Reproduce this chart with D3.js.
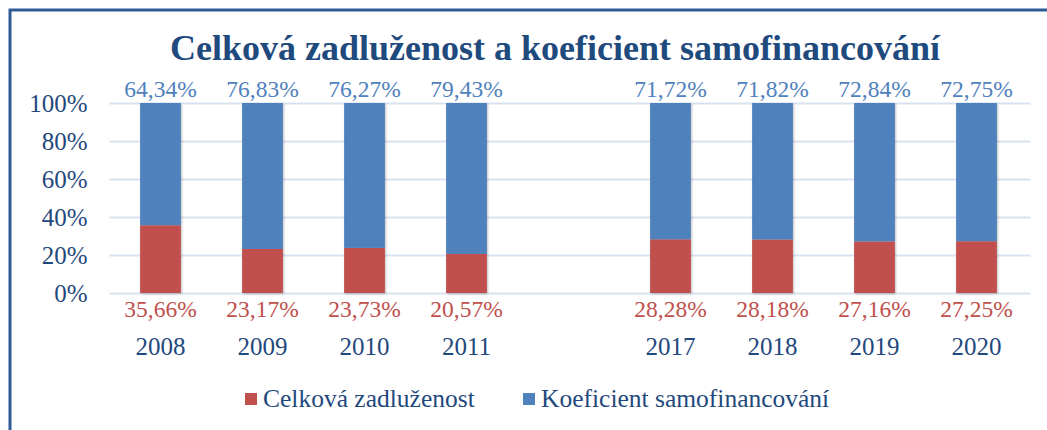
<!DOCTYPE html>
<meta charset="utf-8">
<style>
body { margin: 0; background: #fff; }
svg { font-family: "Liberation Serif", "Times New Roman", serif; }
.grid line { stroke: #D9E2F1; stroke-width: 2px; }
.grid text { fill: #1F497D; font-size: 25px; }
.xaxis text { fill: #1F497D; font-size: 25px; }
.lbl-top { fill: #4F81BD; font-size: 23.5px; }
.lbl-bot { fill: #C0504D; font-size: 23.5px; }
.legend text { fill: #1F497D; font-size: 25.5px; }
</style>
<svg width="1047" height="430"></svg>
<script src="https://d3js.org/d3.v7.min.js"></script>
<script>

// categories ("" is the empty slot between 2011 and 2017)
var years = ["2008", "2009", "2010", "2011", "", "2017", "2018", "2019", "2020"];
var zadluzenost = [35.66, 23.17, 23.73, 20.57, null, 28.28, 28.18, 27.16, 27.25];
var samofinancovani = [64.34, 76.83, 76.27, 79.43, null, 71.72, 71.82, 72.84, 72.75];
var yTicks = [0, 20, 40, 60, 80, 100];
var seriesNames = ["Celková zadluženost", "Koeficient samofinancování"];
var colors = ["#C0504D", "#4F81BD"];

var svg = d3.select("svg"),
    plot = {left: 109.5, right: 1027.5, top: 103, bottom: 293},
    serif = "'Liberation Serif', 'Times New Roman', serif";

var x = d3.scaleBand()
    .domain(years)
    .range([plot.left, plot.right])
    .paddingInner(0.6)
    .paddingOuter(0.3);

var y = d3.scaleLinear().domain([0, 100]).range([plot.bottom, plot.top]);

var fmt = function(v) { return v.toFixed(2).replace(".", ",") + "%"; };

// shadow for the bars
var defs = svg.append("defs");
defs.append("filter").attr("id", "shadow")
    .attr("x", "-20%").attr("y", "-5%").attr("width", "140%").attr("height", "110%")
  .append("feDropShadow")
    .attr("dx", 1).attr("dy", 1).attr("stdDeviation", 1.2)
    .attr("flood-color", "#000").attr("flood-opacity", 0.25);

// frame
svg.append("path")
    .attr("d", "M10,430 L10,10 L1047,10")
    .attr("fill", "none")
    .attr("stroke", "#2E5A96")
    .attr("stroke-width", 3);

// title
svg.append("text")
    .attr("x", 555)
    .attr("y", 60)
    .attr("text-anchor", "middle")
    .attr("font-weight", "bold")
    .attr("font-size", 36)
    .attr("fill", "#1F4A7E")
    .text("Celková zadluženost a koeficient samofinancování");

// gridlines + y labels
var grid = svg.append("g")
    .attr("class", "grid")
    .attr("transform", "translate(" + plot.left + ",0)")
    .call(d3.axisLeft(y)
        .tickValues(yTicks)
        .tickFormat(function(d) { return d + "%"; })
        .tickSize(-(plot.right - plot.left + 3))
        .tickPadding(22))
    .attr("font-family", serif);
grid.select(".domain").remove();
grid.selectAll("text").attr("dy", "0.33em");

// x labels
var xa = svg.append("g")
    .attr("class", "xaxis")
    .attr("transform", "translate(0," + plot.bottom + ")")
    .call(d3.axisBottom(x).tickSize(0).tickPadding(44))
    .attr("font-family", serif);
xa.select(".domain").remove();

var rows = years.map(function(d, i) {
  return {year: d, a: zadluzenost[i], b: samofinancovani[i]};
}).filter(function(d) { return d.a != null; });

var bars = svg.append("g").attr("filter", "url(#shadow)");

bars.selectAll(".bar-a")
  .data(rows)
  .enter().append("rect")
    .attr("x", function(d) { return x(d.year); })
    .attr("width", x.bandwidth())
    .attr("y", function(d) { return y(d.a); })
    .attr("height", function(d) { return y(0) - y(d.a); })
    .attr("fill", colors[0]);

bars.selectAll(".bar-b")
  .data(rows)
  .enter().append("rect")
    .attr("x", function(d) { return x(d.year); })
    .attr("width", x.bandwidth())
    .attr("y", function(d) { return y(d.a + d.b); })
    .attr("height", function(d) { return y(d.a) - y(d.a + d.b); })
    .attr("fill", colors[1]);

// value labels
svg.selectAll(".lbl-top")
  .data(rows)
  .enter().append("text")
    .attr("class", "lbl-top")
    .attr("x", function(d) { return x(d.year) + x.bandwidth() / 2; })
    .attr("y", y(100) - 6)
    .attr("text-anchor", "middle")
    .text(function(d) { return fmt(d.b); });

svg.selectAll(".lbl-bot")
  .data(rows)
  .enter().append("text")
    .attr("class", "lbl-bot")
    .attr("x", function(d) { return x(d.year) + x.bandwidth() / 2; })
    .attr("y", y(0) + 24)
    .attr("text-anchor", "middle")
    .text(function(d) { return fmt(d.a); });

// legend
var legend = svg.append("g").attr("class", "legend");
var legX = [245, 523];
seriesNames.forEach(function(name, i) {
  legend.append("rect")
      .attr("x", legX[i]).attr("y", 393)
      .attr("width", 12).attr("height", 12)
      .attr("fill", colors[i]);
  legend.append("text")
      .attr("x", legX[i] + 18).attr("y", 407)
      .text(name);
});

</script>
